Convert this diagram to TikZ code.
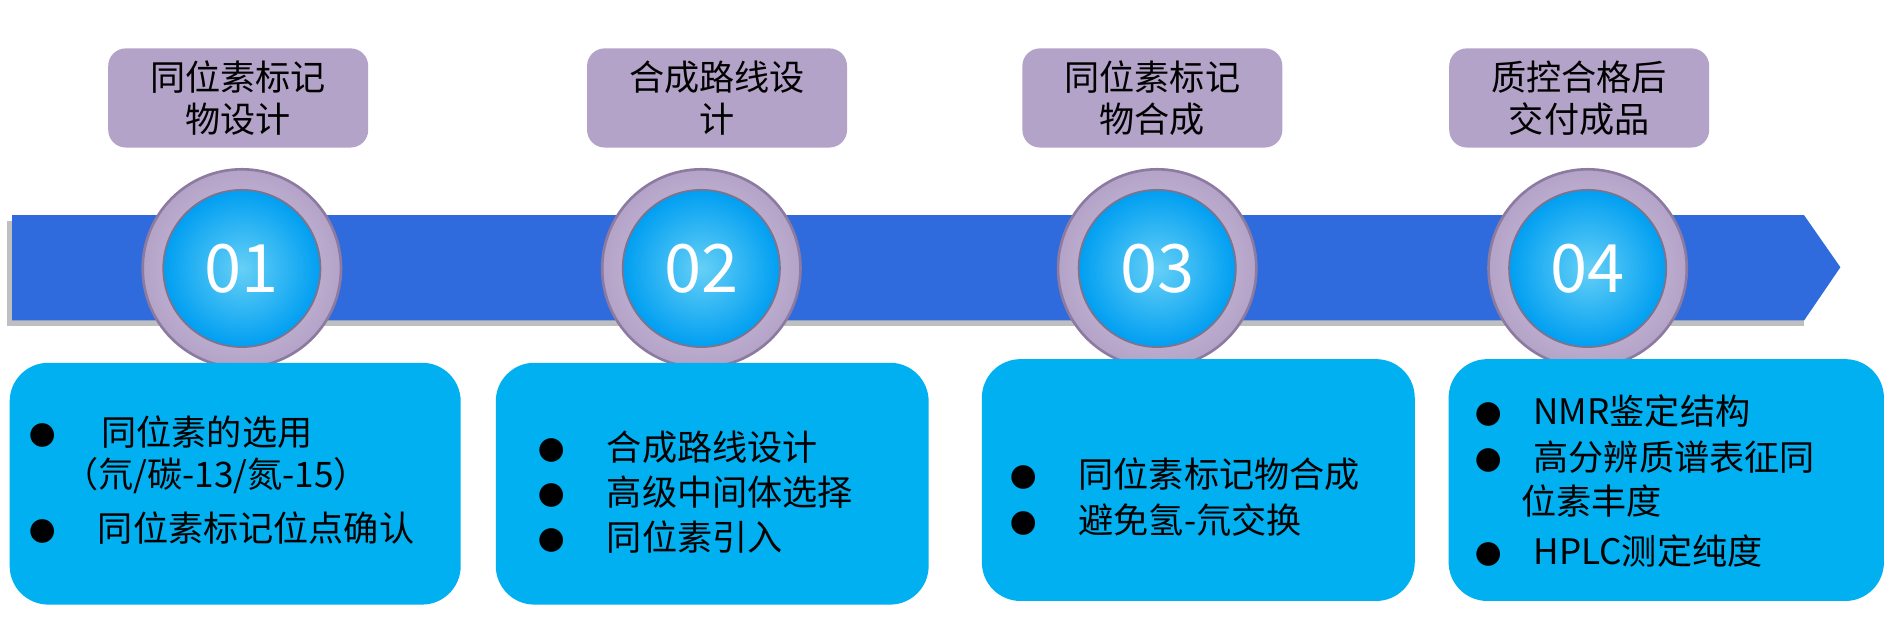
\documentclass[tikz,border=0pt]{standalone}
\usepackage{fontspec}
\setmainfont{Noto Sans CJK SC}
\usetikzlibrary{shadows}
\definecolor{band}{HTML}{2F6BDC}
\definecolor{lilac}{HTML}{B4A3C8}
\definecolor{lilacdk}{HTML}{8C7AA0}
\definecolor{sky}{HTML}{00B0F0}
\tikzset{
  titlebox/.style={fill=lilac, rounded corners=10pt, minimum width=215*0.24184mm, minimum height=82*0.24184mm, align=center, font=\fontsize{20}{24}\selectfont, inner sep=0pt},
  infobox/.style={fill=sky, rounded corners=22pt, minimum height=200*0.24184mm, inner sep=0pt},
  ring/.style={circle, draw=lilacdk, line width=1.5pt, inner color=lilac!60, outer color=lilac, minimum size=164*0.24184mm},
  bead/.style={circle, draw=lilac!70!black, line width=1pt, inner color=sky!60, outer color=sky!90!blue, minimum size=130*0.24184mm, text=white, font=\fontsize{38}{40}\selectfont},
  line/.style={anchor=west, font=\fontsize{20}{24}\selectfont, inner sep=0pt}
}
\newcommand{\bul}{{\fontsize{15}{15}\selectfont●}}
\begin{document}
\begin{tikzpicture}[x=0.24184mm, y=-0.24184mm]
\useasboundingbox (0,0) rectangle (1568,513);
% arrow band
\fill[gray!50] (6,183) -- (1492,183) -- (1492,270) -- (6,270) -- cycle;
\fill[band] (10,178) -- (1492,178) -- (1522,221) -- (1492,265) -- (10,265) -- cycle;
% steps
\foreach \x/\y/\n/\t in {200/197/01/{同位素标记\\物设计}, 580/593/02/{合成路线设\\计}, 957/953/03/{同位素标记\\物合成}, 1313/1306/04/{质控合格后\\交付成品}}{
  \node[titlebox] (title\n) at (\y,81) {\t};
  \node[ring] (ring\n) at (\x,222) {};
  \node[bead] (step\n) at (\x,222) {\n};
}
% info boxes
\node[infobox, minimum width=373*0.24184mm] (info01) at (194.5,400) {};
\node[infobox, minimum width=358*0.24184mm] (info02) at (589,400) {};
\node[infobox, minimum width=358*0.24184mm] (info03) at (991,397) {};
\node[infobox, minimum width=360*0.24184mm] (info04) at (1378,397) {};
% box 1
\node[line] (a1) at (24,357) {\bul\hspace{1.3em}同位素的选用};
\node[line] (a2) at (52,393) {（氘/碳-13/氮-15）};
\node[line] (a3) at (24,437) {\bul\hspace{1.2em}同位素标记位点确认};
% box 2
\node[line] (b1) at (445,370) {\bul\hspace{1.2em}合成路线设计};
\node[line] (b2) at (445,407) {\bul\hspace{1.2em}高级中间体选择};
\node[line] (b3) at (445,444) {\bul\hspace{1.2em}同位素引入};
% box 3
\node[line] (c1) at (835,392) {\bul\hspace{1.2em}同位素标记物合成};
\node[line] (c2) at (835,430) {\bul\hspace{1.2em}避免氢-氘交换};
% box 4
\node[line] (d1) at (1220,340) {\bul\hspace{0.9em}NMR鉴定结构};
\node[line] (d2) at (1220,378) {\bul\hspace{0.9em}高分辨质谱表征同};
\node[line] (d3) at (1258,414) {位素丰度};
\node[line] (d4) at (1220,456) {\bul\hspace{0.9em}HPLC测定纯度};
\end{tikzpicture}
\end{document}
